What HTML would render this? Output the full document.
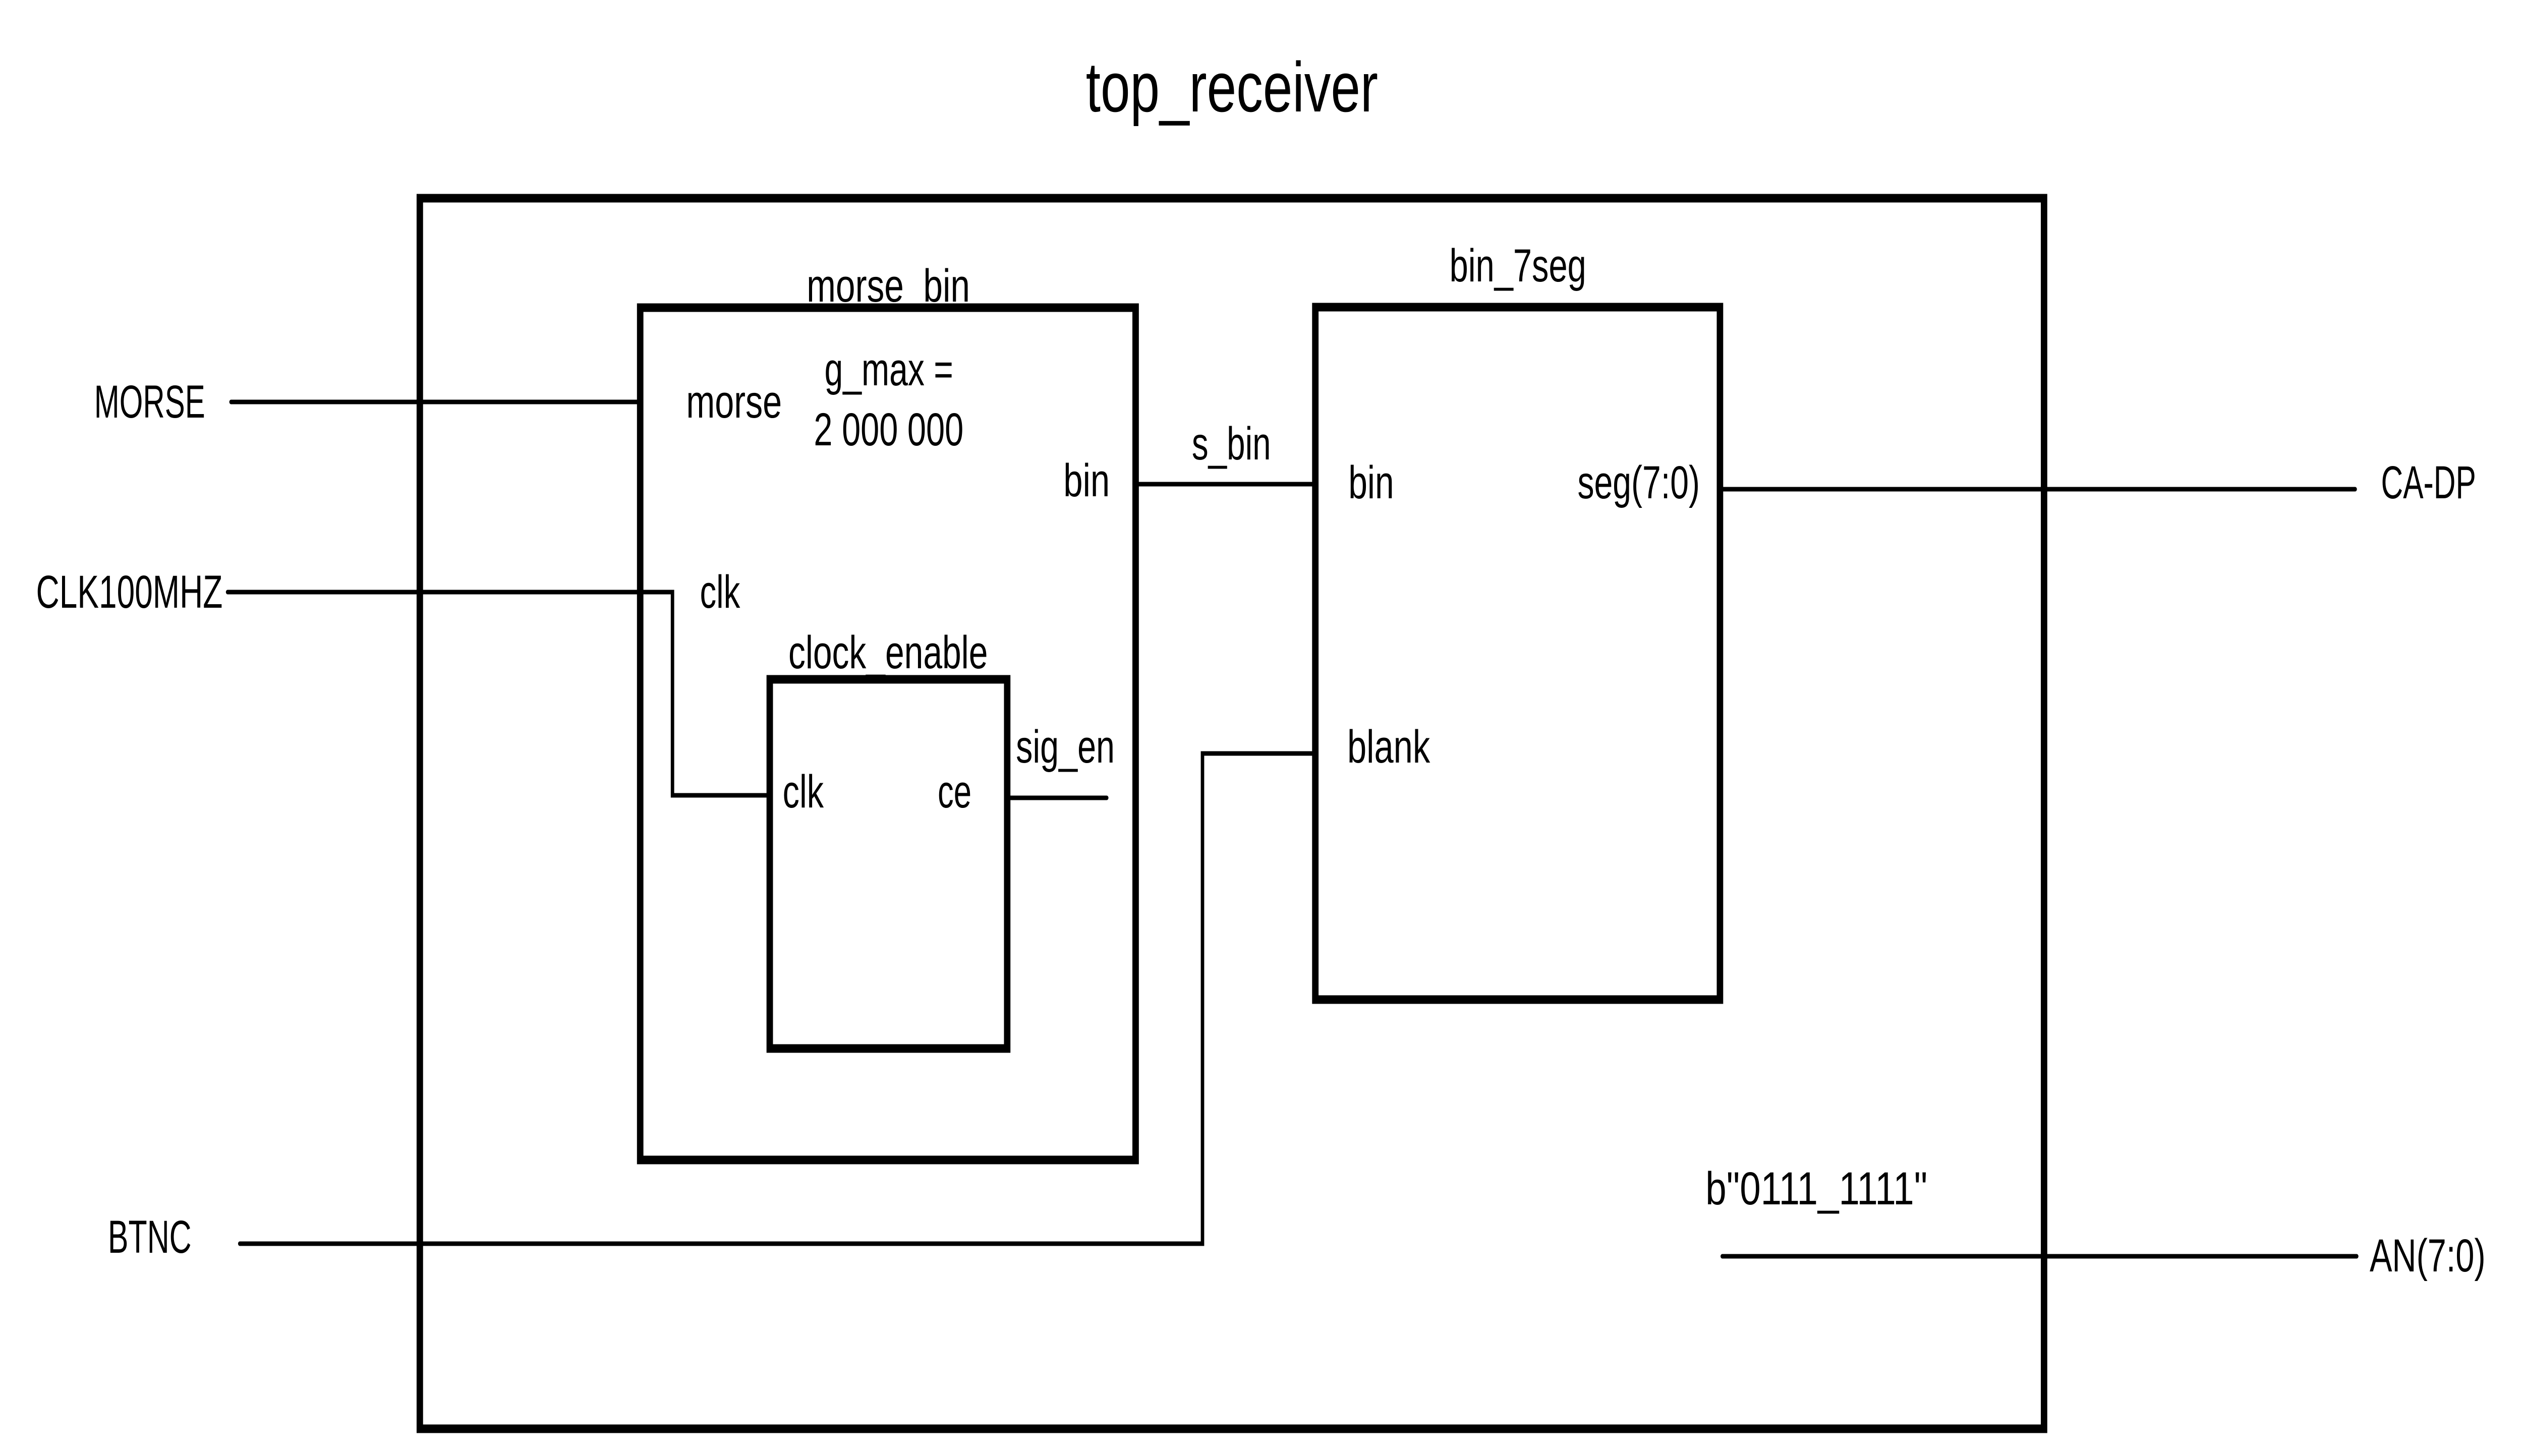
<!DOCTYPE html>
<html><head><meta charset="utf-8"><style>
html,body{margin:0;padding:0;background:#fff;overflow:hidden;width:100vw;height:100vh;}
svg{display:block;width:100vw;height:100vh;}
text{font-family:"Liberation Sans",sans-serif;font-size:92px;fill:#000;}
</style></head><body>
<svg viewBox="0 0 6638 2887" preserveAspectRatio="none" xmlns="http://www.w3.org/2000/svg">
<g fill="none" stroke="#000" stroke-width="17">
<rect x="1105" y="393" width="4275" height="2440"/>
<rect x="1685" y="610" width="1304" height="1690"/>
<rect x="2026" y="1347" width="625" height="732"/>
<rect x="3462" y="609" width="1065" height="1373"/>
</g>
<g fill="none" stroke="#000" stroke-width="9" stroke-linecap="round">
<line x1="608" y1="797" x2="1679" y2="797"/>
<polyline points="599,1174 1770,1174 1770,1577 2026,1577"/>
<line x1="2651" y1="1582" x2="2913" y2="1582"/>
<line x1="2985" y1="960" x2="3464" y2="960"/>
<polyline points="631,2466 3165,2466 3165,1494 3462,1494"/>
<line x1="4527" y1="970" x2="6199" y2="970"/>
<line x1="4533" y1="2491" x2="6203" y2="2491"/>
</g>
<text x="2858" y="221" style="font-size:140px" textLength="769" lengthAdjust="spacingAndGlyphs">top_receiver</text>
<text x="248" y="828" textLength="292" lengthAdjust="spacingAndGlyphs">MORSE</text>
<text x="95" y="1205" textLength="491" lengthAdjust="spacingAndGlyphs">CLK100MHZ</text>
<text x="284" y="2484" textLength="220" lengthAdjust="spacingAndGlyphs">BTNC</text>
<text x="2123" y="598" textLength="430" lengthAdjust="spacingAndGlyphs">morse_bin</text>
<text x="1806" y="828" textLength="252" lengthAdjust="spacingAndGlyphs">morse</text>
<text x="2170" y="764" textLength="339" lengthAdjust="spacingAndGlyphs">g_max =</text>
<text x="2142" y="883" textLength="394" lengthAdjust="spacingAndGlyphs">2 000 000</text>
<text x="2799" y="984" textLength="122" lengthAdjust="spacingAndGlyphs">bin</text>
<text x="1842" y="1205" textLength="106" lengthAdjust="spacingAndGlyphs">clk</text>
<text x="2075" y="1325" textLength="525" lengthAdjust="spacingAndGlyphs">clock_enable</text>
<text x="2060" y="1601" textLength="108" lengthAdjust="spacingAndGlyphs">clk</text>
<text x="2468" y="1601" textLength="89" lengthAdjust="spacingAndGlyphs">ce</text>
<text x="2674" y="1512" textLength="260" lengthAdjust="spacingAndGlyphs">sig_en</text>
<text x="3137" y="911" textLength="208" lengthAdjust="spacingAndGlyphs">s_bin</text>
<text x="3815" y="558" textLength="360" lengthAdjust="spacingAndGlyphs">bin_7seg</text>
<text x="3549" y="988" textLength="120" lengthAdjust="spacingAndGlyphs">bin</text>
<text x="4152" y="988" textLength="322" lengthAdjust="spacingAndGlyphs">seg(7:0)</text>
<text x="3546" y="1512" textLength="218" lengthAdjust="spacingAndGlyphs">blank</text>
<text x="6267" y="988" textLength="250" lengthAdjust="spacingAndGlyphs">CA-DP</text>
<text x="4489" y="2388" textLength="584" lengthAdjust="spacingAndGlyphs">b"0111_1111"</text>
<text x="6237" y="2521" textLength="305" lengthAdjust="spacingAndGlyphs">AN(7:0)</text>
</svg>
</body></html>
